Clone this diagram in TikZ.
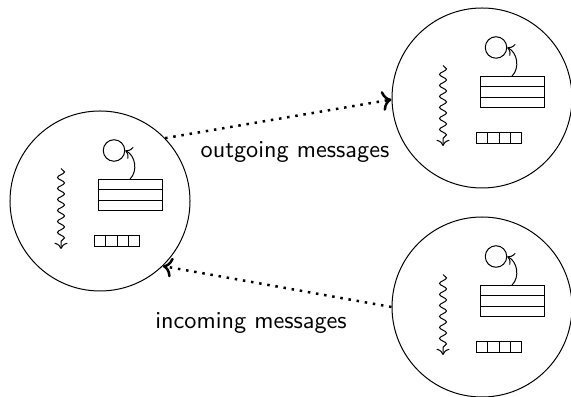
\documentclass[tikz,border=0pt]{standalone}
\usetikzlibrary{decorations.pathmorphing,arrows.meta}
\begin{document}
\begin{tikzpicture}[x=0.4pt,y=-0.4pt,
  font=\sffamily\fontsize{9.7}{12}\selectfont,
  procborder/.style={draw, circle, minimum size=72pt, inner sep=0pt},
  selfloop/.style={draw, circle, minimum size=8.6pt, inner sep=0pt},
  stackrow/.style={draw, rectangle, minimum width=25.6pt, minimum height=4.12pt, inner sep=0pt},
  qcell/.style={draw, rectangle, minimum width=4.5pt, minimum height=4.4pt, inner sep=0pt},
  wavy/.style={->, decorate, decoration={snake, amplitude=1.4pt, segment length=4.4pt, post length=2.5pt}},
  msg/.style={->, line width=1pt, dash pattern=on 1pt off 2.3pt},
  label/.style={inner sep=0pt},
  proc/.pic={
    % process boundary
    \node[procborder] (-border) at (0,0) {};
    % thread state: self loop above the stack
    \node[selfloop] (-self) at (14,-50.5) {};
    % stack of three frames
    \node[stackrow] (-row1) at (30,-16.3) {};
    \node[stackrow] (-row2) at (30,-6) {};
    \node[stackrow] (-row3) at (30,4.3) {};
    \draw[->] (-row1.north) to[bend right=55] (-self.east);
    % execution thread
    \coordinate (-wtop) at (-39,-32.5);
    \coordinate (-wbot) at (-39,48);
    \draw[wavy] (-wtop) -- (-wbot);
    % mailbox queue
    \node[qcell] (-q1) at (0.2,40) {};
    \node[qcell] (-q2) at (11.45,40) {};
    \node[qcell] (-q3) at (22.7,40) {};
    \node[qcell] (-q4) at (33.95,40) {};
  }]
\useasboundingbox (0,0) rectangle (571,397);

\pic (L) at (100,201) {proc};
\pic (T) at (482,98) {proc};
\pic (B) at (482,307) {proc};

\draw[msg] (L-border.44) -- (T-border.181);
\draw[msg] (B-border.180) -- (L-border.-46);

\node[label] (out) at (295,152) {outgoing messages};
\node[label] (in) at (251,323) {incoming messages};
\end{tikzpicture}
\end{document}
